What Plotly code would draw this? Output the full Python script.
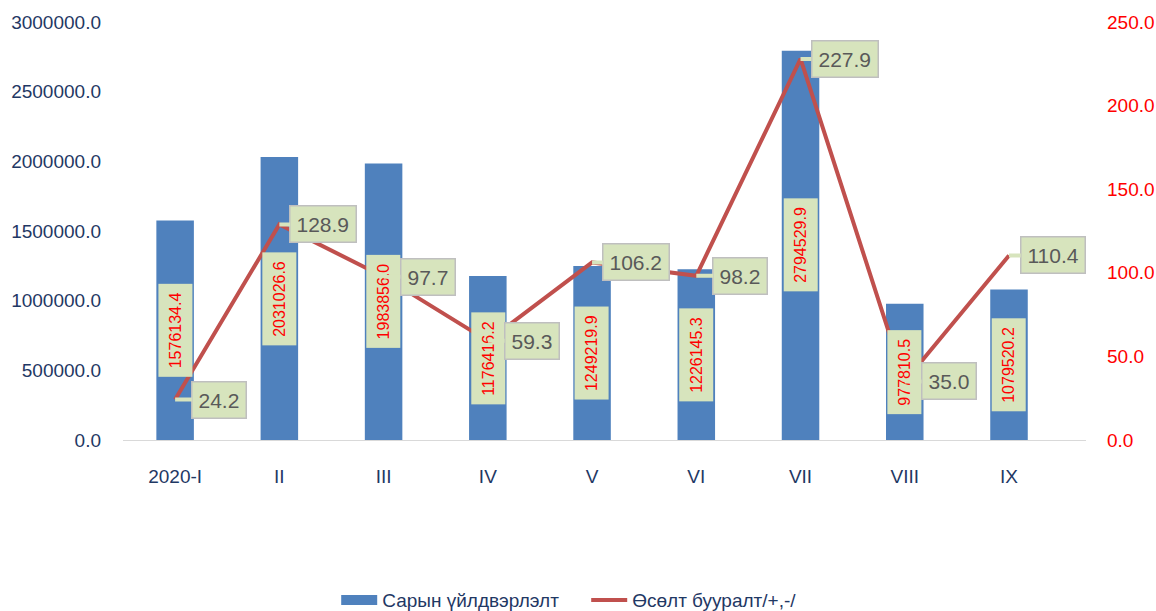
import plotly.graph_objects as go

categories = ["2020-I", "II", "III", "IV", "V", "VI", "VII", "VIII", "IX"]
production = [1576134.4, 2031026.6, 1983856.0, 1176416.2, 1249219.9, 1226145.3, 2794529.9, 977810.5, 1079520.2]
growth = [24.2, 128.9, 97.7, 59.3, 106.2, 98.2, 227.9, 35.0, 110.4]
left_ticks = [0, 500000, 1000000, 1500000, 2000000, 2500000, 3000000]
right_ticks = [0, 50, 100, 150, 200, 250]

AX_FONT = "Liberation Sans, Arial"
BAR_COLOR = "#4F81BD"

fig = go.Figure()
fig.add_trace(go.Bar(
    x=categories, y=production, name="Сарын үйлдвэрлэлт",
    marker=dict(color=BAR_COLOR, line=dict(width=0)), width=0.36,
    showlegend=False, legendgroup="bar",
))
# legend-only entry to show a wide rectangular swatch like the reference
fig.add_trace(go.Scatter(
    x=[None], y=[None], name="Сарын үйлдвэрлэлт", mode="lines",
    line=dict(color=BAR_COLOR, width=14), legendgroup="bar", hoverinfo="skip",
))
fig.add_trace(go.Scatter(
    x=categories, y=growth, name="Өсөлт бууралт/+,-/", yaxis="y2",
    mode="lines", line=dict(color="#C0504D", width=4),
))

annotations = []
for c, v in zip(categories, production):
    annotations.append(dict(
        x=c, y=v / 2, xref="x", yref="y", text=f"{v:.1f}", textangle=-90,
        showarrow=False, bgcolor="#D7E4BD", borderpad=8,
        font=dict(family="Arial, Liberation Sans", size=16, color="#FF0000"),
    ))
for c, g in zip(categories, growth):
    annotations.append(dict(
        x=c, y=g, xref="x", yref="y2", text=f"{g:.1f}",
        showarrow=True, ax=44, ay=0, arrowhead=0, arrowwidth=4, arrowcolor="#D7E4BD",
        standoff=0,
        bgcolor="#D7E4BD", bordercolor="#BFBFBF", borderwidth=1.5, borderpad=6,
        font=dict(family="Arial, Liberation Sans", size=21, color="#595959"),
    ))

fig.update_layout(
    width=1156, height=611,
    margin=dict(l=123, r=70, t=22, b=171, autoexpand=False),
    plot_bgcolor="white", paper_bgcolor="white",
    bargap=0.64,
    showlegend=True,
    legend=dict(orientation="h", x=0.481, xanchor="center", y=-0.383, yanchor="middle",
                font=dict(family=AX_FONT, size=19, color="#1F3864"),
                itemwidth=36, tracegroupgap=0, entrywidth=199),
    xaxis=dict(
        type="category", showgrid=False, showline=True, linecolor="#D9D9D9", linewidth=1,
        ticks="", ticklabelstandoff=19, automargin=False,
        tickfont=dict(family=AX_FONT, size=19, color="#1F3864"),
    ),
    yaxis=dict(
        range=[0, 3000000], tickvals=left_ticks,
        ticktext=[f"{t:.1f}" for t in left_ticks],
        showgrid=False, zeroline=False, ticklabelstandoff=21, automargin=False,
        tickfont=dict(family=AX_FONT, size=19, color="#1F3864"),
    ),
    yaxis2=dict(
        range=[0, 250], tickvals=right_ticks,
        ticktext=[f"{t:.1f}" for t in right_ticks],
        overlaying="y", side="right", showgrid=False, zeroline=False,
        ticklabelstandoff=20, automargin=False,
        tickfont=dict(family=AX_FONT, size=19, color="#FF0000"),
    ),
    annotations=annotations,
)

fig.write_html(
    "out.html",
    config={"displayModeBar": False},
    post_script="document.body.style.margin='0';document.body.style.overflow='hidden';",
)
